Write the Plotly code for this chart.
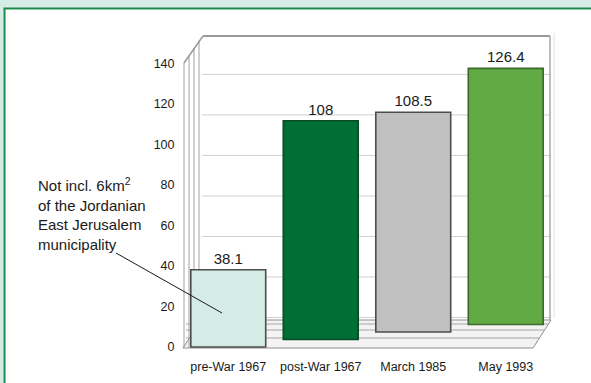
import plotly.graph_objects as go

# Jerusalem municipal area (km²)
periods = ["pre-War 1967", "post-War 1967", "March 1985", "May 1993"]
area_km2 = [38.1, 108, 108.5, 126.4]
value_labels = ["38.1", "108", "108.5", "126.4"]
y_ticks = [0, 20, 40, 60, 80, 100, 120, 140]

bar_fill = ["#d5ebe5", "#006f36", "#c0c0c0", "#62ab44"]
bar_edge = ["#4d4d4d", "#0b4a27", "#4d4d4d", "#3a6a2c"]

# pseudo-3D floor: each bar sits a little higher as the floor recedes
FLOOR_LIFT = 3.7
bar_base = [i * FLOOR_LIFT for i in range(len(periods))]

W, H = 591, 383
L, R, T, B = 182, 552, 35, 350


def px(x):
    return (x - L) / (R - L)


def py(y):
    return (B - y) / (B - T)


def seg(x0, y0, x1, y1, color="#9a9a9a", width=1, layer="below"):
    return dict(type="line", xref="paper", yref="paper",
                x0=px(x0), y0=py(y0), x1=px(x1), y1=py(y1),
                line=dict(color=color, width=width), layer=layer)


fig = go.Figure(go.Bar(
    x=periods, y=area_km2, base=bar_base,
    marker=dict(color=bar_fill, line=dict(color=bar_edge, width=1.6)),
    text=value_labels, textposition="outside", cliponaxis=False,
    textfont=dict(family="Liberation Sans, Arial", size=15, color="#1a1a1a"),
    width=0.81,
))

shapes = []
# outer panel frame
shapes.append(dict(type="rect", xref="paper", yref="paper", x0=px(0), x1=px(W),
                   y0=py(8), y1=py(0), fillcolor="#d6ece6", line_width=0, layer="below"))
shapes.append(dict(type="rect", xref="paper", yref="paper", x0=px(0), x1=px(3.5),
                   y0=py(H), y1=py(8), fillcolor="#d6ece6", line_width=0, layer="below"))
shapes.append(seg(3.5, 8.5, W, 8.5, color="#1e8a4e", width=2))
shapes.append(seg(4.5, 8.5, 4.5, H, color="#1e8a4e", width=2))

# floor slab
floor_path = (f"M {px(183)},{py(348)} L {px(533)},{py(348)} L {px(551)},{py(320)} "
              f"L {px(201)},{py(320)} Z")
shapes.append(dict(type="path", xref="paper", yref="paper", path=floor_path,
                   fillcolor="#f3f3f3", line=dict(color="#8e8e8e", width=1), layer="below"))
for yy in (338, 330, 324):
    xr = 533 + (348 - yy) * 18 / 28
    shapes.append(seg(186, yy, xr, yy, color="#a5a5a5"))

# back wall gridlines, shifted by the wall depth
for t in y_ticks[1:]:
    yy = 347 - t * 2.0257 + 11
    shapes.append(seg(202, yy, 550, yy, color="#cfcfcf"))

# back wall top and right edges
shapes.append(seg(203, 36, 550, 36, color="#999999", width=2))
shapes.append(seg(550, 36, 550, 320, color="#a8a8a8", width=1.5))
shapes.append(seg(554, 33, 554, 318, color="#e2e2e2", width=1))

# left side wall
for xw in (184, 189, 194, 199):
    top = 63 - (xw - 184) * 27 / 18
    shapes.append(seg(xw, top, xw, 347, color="#a0a0a0"))
shapes.append(seg(184, 63, 203, 36, color="#999999", width=1.5))

# leader line for the note
shapes.append(seg(116, 253, 222, 313, color="#1a1a1a", width=1, layer="above"))

fig.update_layout(
    width=W, height=H,
    margin=dict(l=L, r=W - R, t=T, b=H - B, pad=0, autoexpand=False),
    paper_bgcolor="white", plot_bgcolor="rgba(0,0,0,0)",
    showlegend=False, bargap=0.19,
    shapes=shapes,
    font=dict(family="Liberation Sans, Arial", color="#1a1a1a"),
    xaxis=dict(showgrid=False, showline=False, zeroline=False, automargin=False,
               ticks="outside", ticklen=5, tickcolor="rgba(0,0,0,0)",
               tickfont=dict(size=12.5)),
    yaxis=dict(range=[-1.5, 154], tickvals=y_ticks, showgrid=False, automargin=False,
               showline=False, zeroline=False, ticks="outside", ticklen=4,
               tickcolor="rgba(0,0,0,0)", tickfont=dict(size=12.5)),
    annotations=[dict(
        xref="paper", yref="paper", x=px(36), y=py(173),
        xanchor="left", yanchor="top", align="left", showarrow=False,
        text="Not incl. 6km<sup>2</sup><br>of the Jordanian<br>East Jerusalem<br>municipality",
        font=dict(size=15, color="#1a1a1a"),
    )],
)

fig.write_html("out.html")
